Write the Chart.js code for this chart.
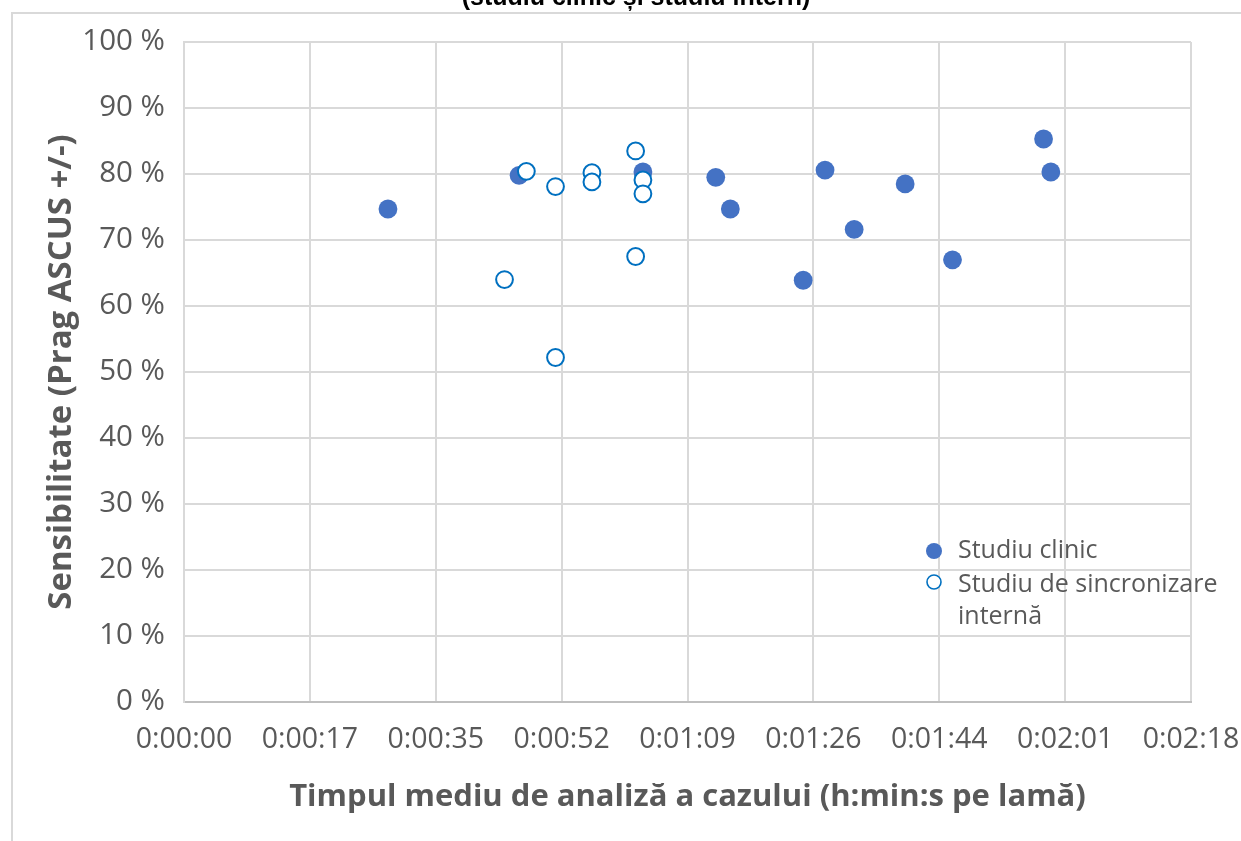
<!DOCTYPE html>
<html>
<head>
<meta charset="utf-8">
<script src="https://cdn.jsdelivr.net/npm/chart.js@4"></script>
<style>
    html, body { margin: 0; padding: 0; background: #fff; overflow: hidden; }
    #wrap { position: relative; width: 1241px; height: 841px; }
</style>
</head>
<body>
<div id="wrap"><canvas id="scatterChart" width="1241" height="841"></canvas></div>
<script>
// timpul mediu (secunde) si sensibilitatea (%)
const clinicTime = [28, 46, 63, 73, 75, 85, 88, 92, 99, 105.5, 118, 119];
const clinicSens = [74.7, 79.8, 80.3, 79.5, 74.7, 63.9, 80.6, 71.6, 78.5, 67.0, 85.3, 80.3];
const internTime = [44, 47, 51, 51, 56, 56, 62, 62, 63, 63];
const internSens = [64.0, 80.4, 78.1, 52.2, 80.2, 78.8, 83.5, 67.5, 79.1, 77.0];

const seriesNames = ['Studiu clinic', 'Studiu de sincronizare', 'internă'];
const xTickLabels = ['0:00:00', '0:00:17', '0:00:35', '0:00:52', '0:01:09', '0:01:26', '0:01:44', '0:02:01', '0:02:18'];
const yTickLabels = ['0 %', '10 %', '20 %', '30 %', '40 %', '50 %', '60 %', '70 %', '80 %', '90 %', '100 %'];

const xStep = 17.28; // 0.0002 zile

document.addEventListener('DOMContentLoaded', function() {
    const gray = '#595959';
    const blue = '#4472C4';
    const blueLine = '#0070C0';

    const toPoints = (xs, ys) => xs.map((x, i) => ({ x: x, y: ys[i] }));

    // chenar, titlu taiat si legenda
    const decor = {
        id: 'decor',
        beforeDraw(chart) {
            const ctx = chart.ctx;
            ctx.save();
            ctx.strokeStyle = '#d9d9d9';
            ctx.lineWidth = 2;
            ctx.beginPath();
            ctx.moveTo(12, 841);
            ctx.lineTo(12, 13);
            ctx.lineTo(1241, 13);
            ctx.stroke();
            ctx.restore();
        },
        afterDraw(chart) {
            const ctx = chart.ctx;
            ctx.save();
            ctx.fillStyle = '#000';
            ctx.font = 'bold 25px "Liberation Sans"';
            ctx.textAlign = 'center';
            ctx.textBaseline = 'alphabetic';
            ctx.fillText('(studiu clinic și studiu intern)', 636, 5);

            ctx.fillStyle = blue;
            ctx.beginPath();
            ctx.arc(934, 551, 8, 0, Math.PI * 2);
            ctx.fill();
            ctx.fillStyle = '#fff';
            ctx.strokeStyle = blueLine;
            ctx.lineWidth = 1.6;
            ctx.beginPath();
            ctx.arc(934, 582, 7, 0, Math.PI * 2);
            ctx.fill();
            ctx.stroke();

            ctx.fillStyle = gray;
            ctx.font = '25px "Open Sans"';
            ctx.textAlign = 'left';
            ctx.textBaseline = 'middle';
            ctx.fillText(seriesNames[0], 958, 551);
            ctx.fillText(seriesNames[1], 958, 585);
            ctx.fillText(seriesNames[2], 958, 617);
            ctx.restore();
        }
    };

    const ctx = document.getElementById('scatterChart').getContext('2d');
    new Chart(ctx, {
        type: 'scatter',
        data: {
            datasets: [{
                label: seriesNames[0],
                data: toPoints(clinicTime, clinicSens),
                backgroundColor: blue,
                borderColor: blue,
                borderWidth: 0,
                pointRadius: 9.4,
                order: 2
            }, {
                label: seriesNames[1] + ' ' + seriesNames[2],
                data: toPoints(internTime, internSens),
                backgroundColor: '#ffffff',
                borderColor: blueLine,
                borderWidth: 2,
                pointRadius: 8.4,
                order: 1
            }]
        },
        options: {
            responsive: false,
            animation: false,
            layout: { padding: { left: 0, right: 50, top: 42, bottom: 0 } },
            plugins: {
                legend: { display: false },
                tooltip: { enabled: false }
            },
            scales: {
                x: {
                    type: 'linear',
                    min: 0,
                    max: xStep * 8,
                    afterBuildTicks: axis => {
                        axis.ticks = xTickLabels.map((_, i) => ({ value: i * xStep }));
                    },
                    afterFit: scale => {
                        scale.height = 139;
                        scale.paddingLeft = 0;
                        scale.paddingRight = 0;
                    },
                    grid: { color: '#d9d9d9', lineWidth: 2, drawTicks: false },
                    border: { color: '#bfbfbf', width: 2 },
                    ticks: {
                        padding: 21,
                        maxRotation: 0,
                        autoSkip: false,
                        color: gray,
                        font: { family: 'Open Sans', size: 28.5 },
                        callback: (value, index) => xTickLabels[index]
                    },
                    title: {
                        display: true,
                        text: 'Timpul mediu de analiză a cazului (h:min:s pe lamă)',
                        color: gray,
                        font: { family: 'Open Sans', size: 31, weight: 'bold' },
                        padding: { top: 0, bottom: 25 }
                    }
                },
                y: {
                    min: 0,
                    max: 100,
                    afterBuildTicks: axis => {
                        axis.ticks = yTickLabels.map((_, i) => ({ value: i * 10 }));
                    },
                    afterFit: scale => {
                        scale.width = 184;
                    },
                    grid: { color: '#d9d9d9', lineWidth: 2, drawTicks: false },
                    border: { color: '#d9d9d9', width: 2 },
                    ticks: {
                        padding: 19,
                        color: gray,
                        font: { family: 'Open Sans', size: 29.5 },
                        callback: (value, index) => yTickLabels[index]
                    },
                    title: {
                        display: true,
                        text: 'Sensibilitate (Prag ASCUS +/-)',
                        color: gray,
                        font: { family: 'Open Sans', size: 33, weight: 'bold' },
                        padding: { top: 42, bottom: 0 }
                    }
                }
            }
        },
        plugins: [decor]
    });
});
</script>
</body>
</html>
